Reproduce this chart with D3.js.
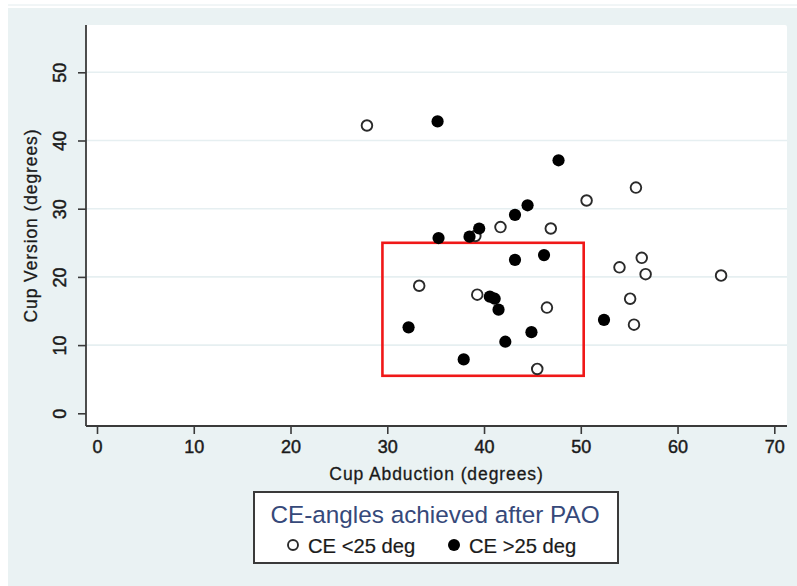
<!DOCTYPE html>
<html>
<head>
<meta charset="utf-8">
<script src="https://cdn.jsdelivr.net/npm/d3@7"></script>
<style>
  html, body { margin: 0; padding: 0; background: #ffffff; }
  svg { display: block; }
  text { font-family: "Liberation Sans", Arial, sans-serif; }
</style>
</head>
<body>
<svg id="chart" width="797" height="586"></svg>
<script>
// ---------------- data ----------------
const xTicks = [0, 10, 20, 30, 40, 50, 60, 70];
const yTicks = [0, 10, 20, 30, 40, 50];
const yGrid = [10, 20, 30, 40, 50];

// CE < 25 deg (hollow markers)
const abductionLow = [27.9, 55.7, 50.6, 41.7, 46.9, 56.3, 54.0, 56.7, 64.5, 55.1, 55.5, 33.3, 39.3, 46.5, 45.5, 39.1];
const versionLow   = [42.2, 33.1, 31.2, 27.3, 27.1, 22.8, 21.4, 20.4, 20.2, 16.8, 13.0, 18.7, 17.4, 15.5, 6.5, 26.0];

// CE > 25 deg (filled markers)
const abductionHigh = [35.2, 47.7, 44.5, 43.2, 39.5, 38.5, 35.3, 43.2, 46.2, 40.6, 41.1, 41.5, 32.2, 44.9, 42.2, 37.9, 52.4];
const versionHigh   = [42.8, 37.1, 30.5, 29.1, 27.1, 25.9, 25.7, 22.5, 23.2, 17.1, 16.8, 15.2, 12.6, 11.9, 10.5, 7.9, 13.7];

// safe zone box (abduction range, version range)
const zoneAbduction = [29.5, 50.3];
const zoneVersion = [5.5, 25];

const xTitle = "Cup Abduction (degrees)";
const yTitle = "Cup Version (degrees)";
const legendTitle = "CE-angles achieved after PAO";
const seriesNames = ["CE <25 deg", "CE >25 deg"];

// ---------------- layout ----------------
const svg = d3.select("#chart");
const W = 797, H = 586;
const plot = { left: 86, top: 25, right: 787, bottom: 426 };

const x = d3.scaleLinear().domain([0, 70]).range([97, 774.3]);
const y = d3.scaleLinear().domain([0, 50]).range([413.3, 72.3]);

// outer graph region
svg.append("rect").attr("x", 0).attr("y", 0).attr("width", W).attr("height", H).attr("fill", "#ffffff");
svg.append("line").attr("x1", 8).attr("x2", W).attr("y1", 5).attr("y2", 5)
  .attr("stroke", "#e3ecee").attr("stroke-width", 1);
svg.append("rect").attr("x", 8).attr("y", 8).attr("width", W - 8).attr("height", H - 8)
  .attr("fill", "#eaf2f3");

// plot region
svg.append("rect").attr("x", plot.left).attr("y", plot.top)
  .attr("width", plot.right - plot.left).attr("height", plot.bottom - plot.top)
  .attr("rx", 2).attr("fill", "#ffffff");

// gridlines
svg.append("g").selectAll("line").data(yGrid).join("line")
  .attr("x1", plot.left).attr("x2", plot.right)
  .attr("y1", d => y(d)).attr("y2", d => y(d))
  .attr("stroke", "#e6eff1").attr("stroke-width", 1.6);

// axes
const yAxis = d3.axisLeft(y).tickValues(yTicks).tickSize(8).tickPadding(14).tickSizeOuter(0);
const xAxis = d3.axisBottom(x).tickValues(xTicks).tickSize(8).tickPadding(4).tickSizeOuter(0);

const gy = svg.append("g").attr("transform", `translate(${plot.left},0)`).call(yAxis);
gy.select(".domain").attr("d", `M0,${plot.top}V${plot.bottom}`);
const gx = svg.append("g").attr("transform", `translate(0,${plot.bottom})`).call(xAxis);
gx.select(".domain").attr("d", `M${plot.left},0H${plot.right}`);

[gx, gy].forEach(g => {
  g.select(".domain").attr("stroke", "#3a3a3a").attr("stroke-width", 1.8);
  g.selectAll(".tick line").attr("stroke", "#3a3a3a").attr("stroke-width", 1.6);
  g.selectAll(".tick text").attr("fill", "#1a1a1a").attr("font-size", 18)
    .attr("stroke", "#1a1a1a").attr("stroke-width", 0.45)
    .attr("font-family", "'Liberation Sans', Arial, sans-serif");
});
gx.selectAll(".tick text").attr("dy", "0.71em").attr("y", 14);
gy.selectAll(".tick text")
  .attr("text-anchor", "middle")
  .attr("x", null).attr("dy", null)
  .attr("transform", "translate(-26,0) rotate(-90)")
  .attr("dy", "0.36em");

// axis titles
svg.append("text")
  .attr("x", (plot.left + plot.right) / 2).attr("y", 480)
  .attr("text-anchor", "middle").attr("font-size", 17.5).attr("letter-spacing", 0.9)
  .attr("fill", "#1a1a1a").attr("stroke", "#1a1a1a").attr("stroke-width", 0.3).text(xTitle);

svg.append("text")
  .attr("transform", `translate(37,${(plot.top + plot.bottom) / 2}) rotate(-90)`)
  .attr("text-anchor", "middle").attr("font-size", 17.5).attr("letter-spacing", 0.9)
  .attr("fill", "#1a1a1a").attr("stroke", "#1a1a1a").attr("stroke-width", 0.3).text(yTitle);

// red zone rectangle
svg.append("rect")
  .attr("x", x(zoneAbduction[0])).attr("y", y(zoneVersion[1]))
  .attr("width", x(zoneAbduction[1]) - x(zoneAbduction[0]))
  .attr("height", y(zoneVersion[0]) - y(zoneVersion[1]))
  .attr("fill", "none").attr("stroke", "#f01818").attr("stroke-width", 2.6);

// points
const low = abductionLow.map((a, i) => ({ a, v: versionLow[i] }));
const high = abductionHigh.map((a, i) => ({ a, v: versionHigh[i] }));

svg.append("g").selectAll("circle").data(low).join("circle")
  .attr("cx", d => x(d.a)).attr("cy", d => y(d.v)).attr("r", 5.3)
  .attr("fill", "#ffffff").attr("stroke", "#2a2a2a").attr("stroke-width", 1.9);

svg.append("g").selectAll("circle").data(high).join("circle")
  .attr("cx", d => x(d.a)).attr("cy", d => y(d.v)).attr("r", 6.1)
  .attr("fill", "#000000");

// legend
const lg = svg.append("g");
lg.append("rect").attr("x", 254).attr("y", 492).attr("width", 364).attr("height", 71)
  .attr("fill", "#ffffff").attr("stroke", "#3a3a3a").attr("stroke-width", 2);
lg.append("text").attr("x", 435).attr("y", 523).attr("text-anchor", "middle")
  .attr("font-size", 24.3).attr("fill", "#36497a").text(legendTitle);

lg.append("circle").attr("cx", 293).attr("cy", 545).attr("r", 5)
  .attr("fill", "#ffffff").attr("stroke", "#2a2a2a").attr("stroke-width", 1.9);
lg.append("text").attr("x", 308).attr("y", 553).attr("font-size", 20.2)
  .attr("fill", "#1a1a1a").attr("stroke", "#1a1a1a").attr("stroke-width", 0.2).text(seriesNames[0]);
lg.append("circle").attr("cx", 454).attr("cy", 545).attr("r", 6).attr("fill", "#000000");
lg.append("text").attr("x", 469).attr("y", 553).attr("font-size", 20.2)
  .attr("fill", "#1a1a1a").attr("stroke", "#1a1a1a").attr("stroke-width", 0.2).text(seriesNames[1]);
</script>
</body>
</html>
